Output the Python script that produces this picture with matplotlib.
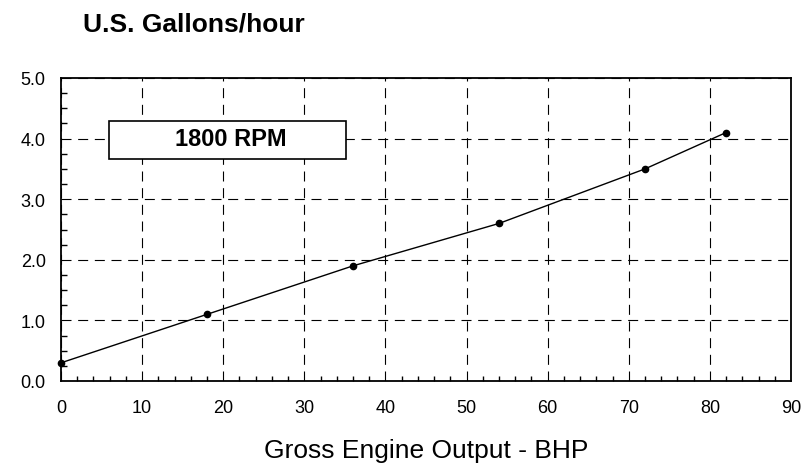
import matplotlib
matplotlib.use("Agg")
from matplotlib import pyplot as plt
from matplotlib.ticker import MultipleLocator
from matplotlib.patches import Rectangle

# Fuel consumption at 1800 RPM
bhp = [0, 18, 36, 54, 72, 82]
gph = [0.3, 1.1, 1.9, 2.6, 3.5, 4.1]

plt.rcParams['font.family'] = ['Liberation Sans', 'DejaVu Sans']

W, H = 808, 464
fig = plt.figure(figsize=(W / 100, H / 100), dpi=100)
ax = fig.add_axes([61 / W, 1 - 382 / H, 730 / W, 303 / H])

ax.plot(bhp, gph, color='black', linewidth=1.0, marker='o', markersize=4.5, zorder=3,
        clip_on=False)

ax.set_xlim(0, 90)
ax.set_ylim(0, 5)
ax.xaxis.set_major_locator(MultipleLocator(10))
ax.xaxis.set_minor_locator(MultipleLocator(2))
ax.yaxis.set_major_locator(MultipleLocator(1))
ax.yaxis.set_minor_locator(MultipleLocator(0.25))
ax.yaxis.set_major_formatter(plt.FormatStrFormatter('%.1f'))

ax.grid(True, which='major', color='black', linestyle=(0, (9, 6)), linewidth=0.8)
ax.tick_params(which='both', direction='in', top=False, right=False, labelsize=13)
ax.tick_params(which='major', length=0)
ax.tick_params(axis='x', which='major', pad=13)
ax.tick_params(axis='y', which='major', pad=11)
ax.tick_params(axis='x', which='minor', length=3.5, width=1)
ax.tick_params(axis='y', which='minor', length=4.5, width=1)
for s in ax.spines.values():
    s.set_linewidth(1.3)

# axis title and chart heading
fig.text((61 + 791) / 2 / W, 1 - 458 / H, "Gross Engine Output - BHP", fontsize=19,
         ha='center', va='baseline')
fig.text(83 / W, 1 - 31 / H, "U.S. Gallons/hour", fontsize=19, fontweight='bold',
         ha='left', va='baseline')

# label box
ax.add_patch(Rectangle((5.92, 3.66), 29.2, 0.63, facecolor='white', edgecolor='black',
                       linewidth=1.2, zorder=3.5))
ax.text(20.9, 3.895, "1800 RPM", fontsize=17, fontweight='bold', ha='center',
        va='baseline', zorder=4)

fig.savefig("out.png", dpi=100)
